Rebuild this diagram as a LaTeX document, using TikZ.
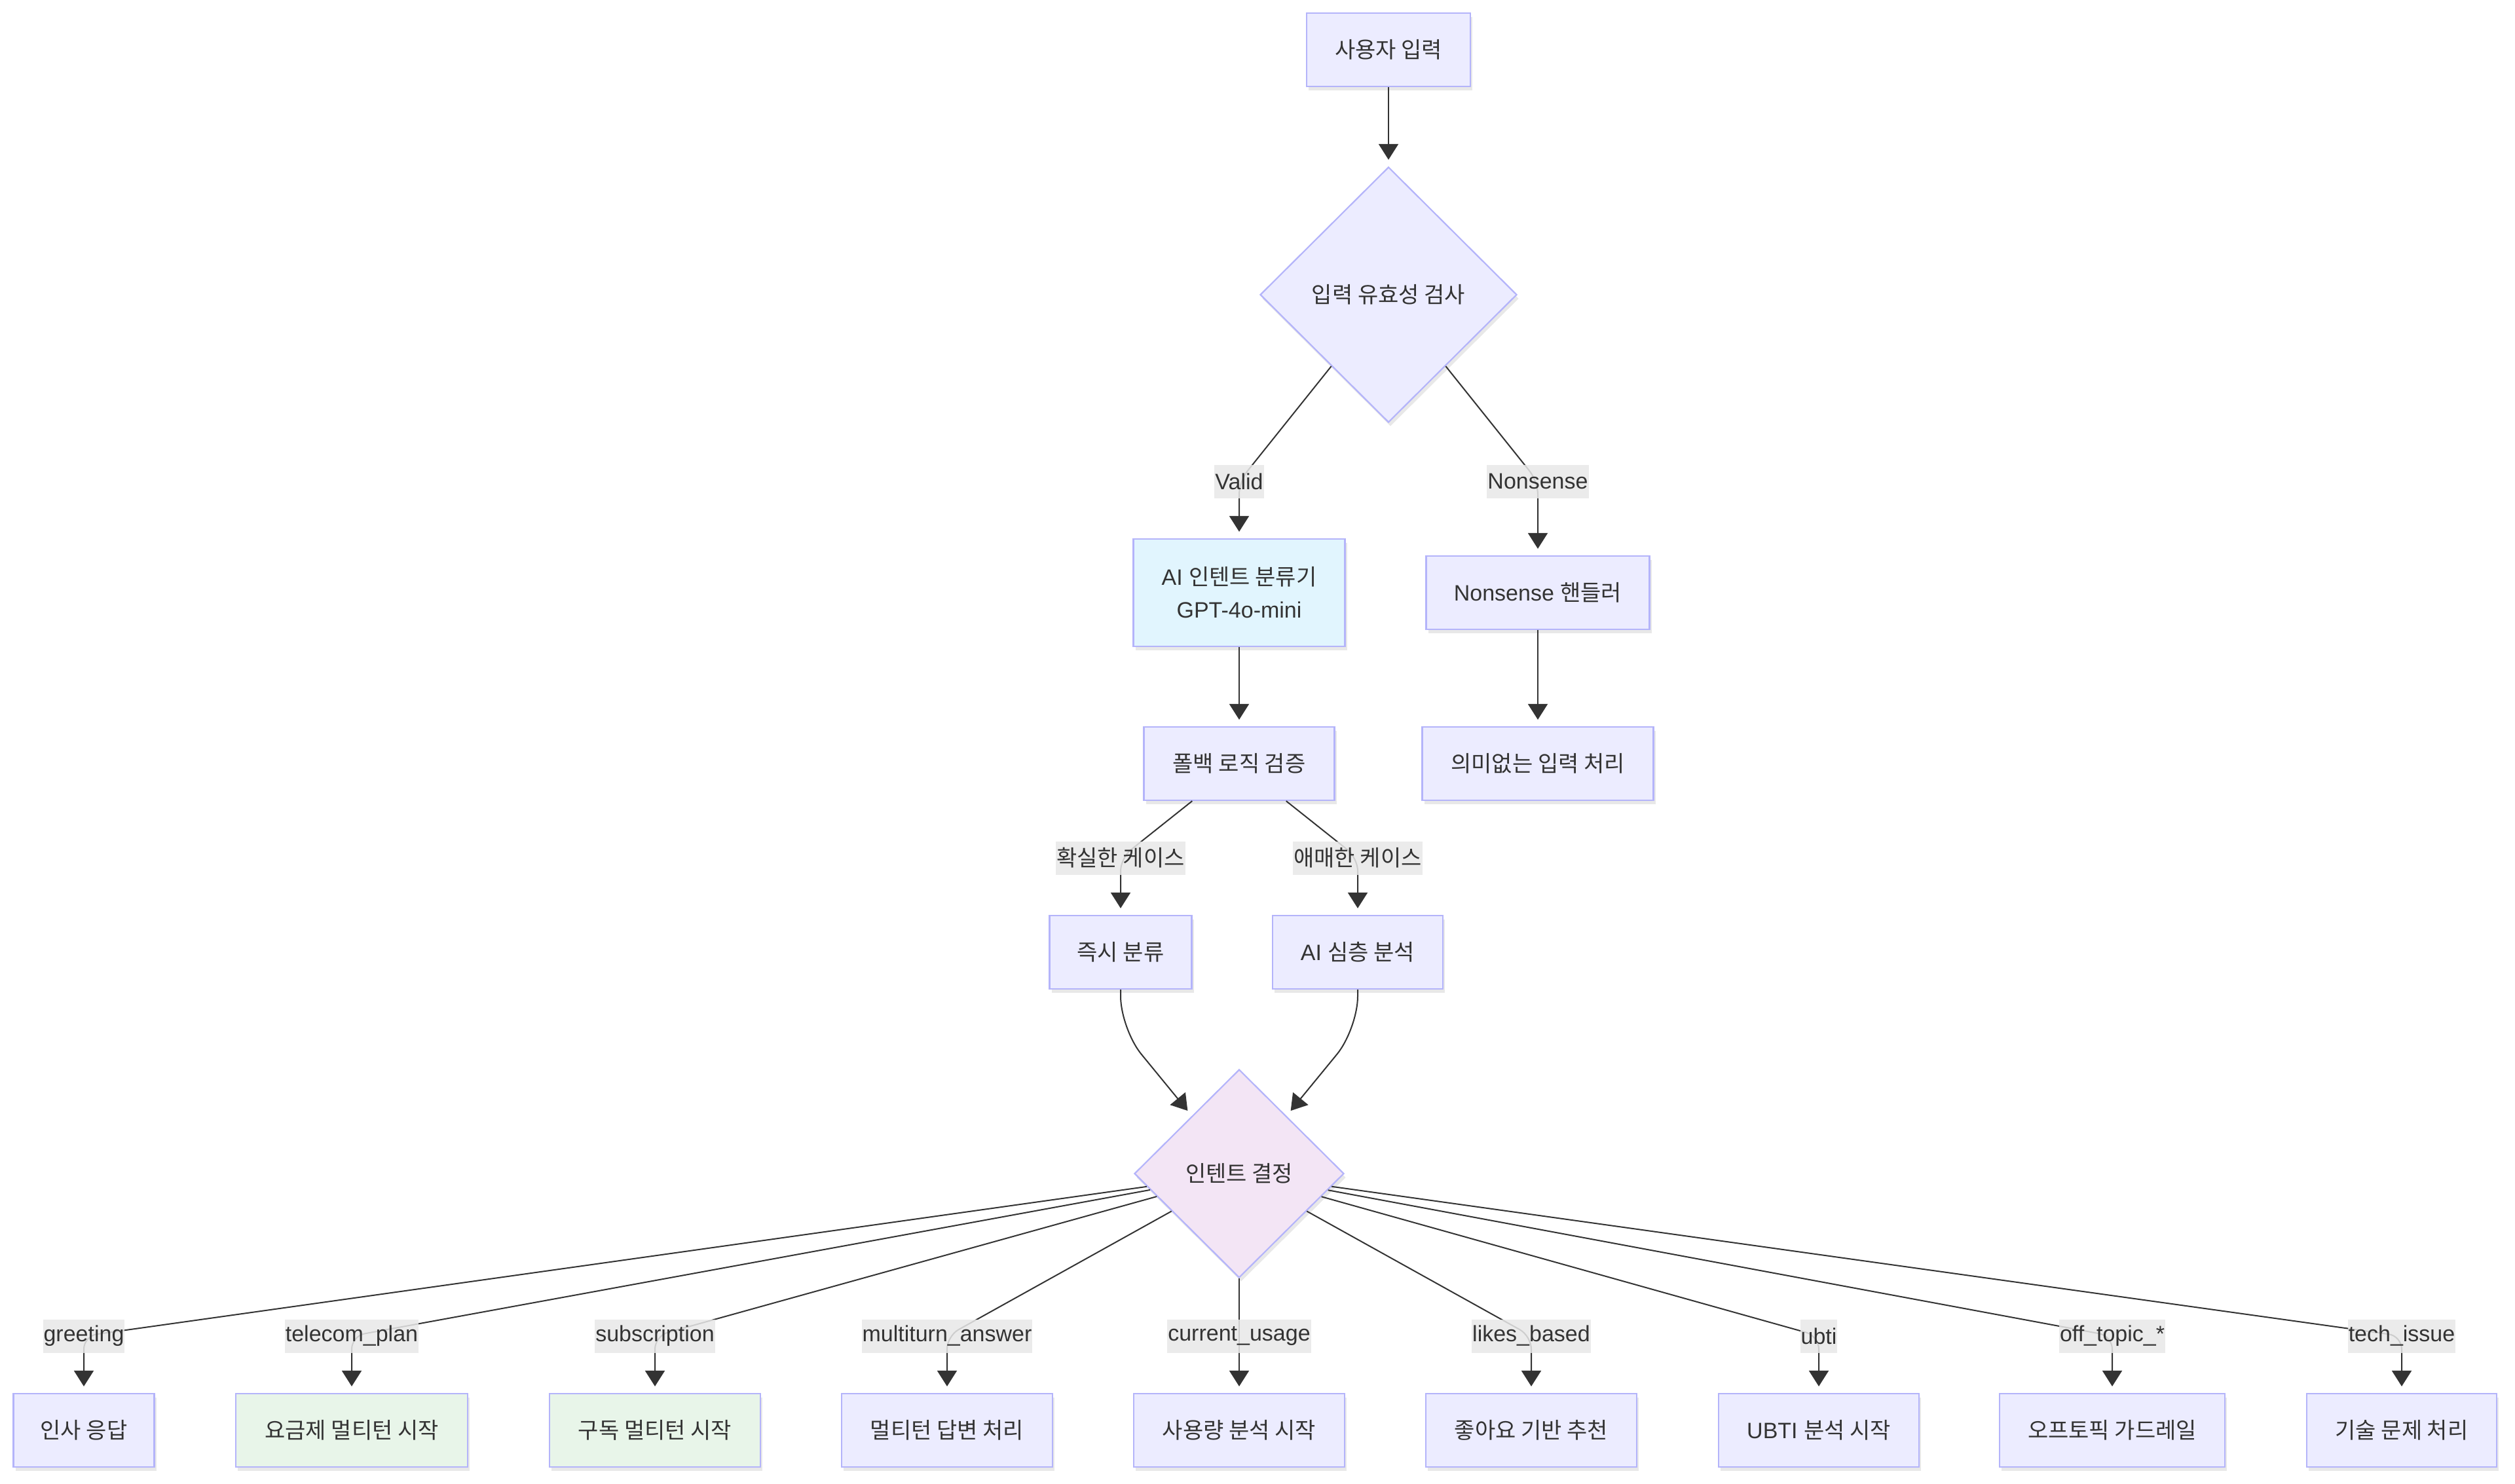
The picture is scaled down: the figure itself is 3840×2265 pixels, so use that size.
\documentclass[tikz,border=0pt]{standalone}
\usepackage{fontspec}
\setmainfont{Liberation Sans}
\newfontfamily\kr{Noto Sans CJK KR}
\usetikzlibrary{shapes.geometric,arrows.meta,shadows}

\definecolor{nodefill}{HTML}{ECECFF}
\definecolor{nodeline}{HTML}{B4B4FA}
\definecolor{aifill}{HTML}{E1F5FE}
\definecolor{planfill}{HTML}{E8F5E9}
\definecolor{decfill}{HTML}{F3E5F5}
\definecolor{tagfill}{HTML}{E8E8E8}
\definecolor{ink}{HTML}{333333}

\tikzset{
	box/.style={rectangle,draw=nodeline,line width=2.2pt,fill=nodefill,text=ink,
		minimum height=112pt,inner sep=0pt,align=center,
		font=\fontsize{34}{50}\selectfont,
		drop shadow={shadow xshift=3pt,shadow yshift=-6pt,opacity=0.18}},
	choice/.style={diamond,aspect=1,draw=nodeline,line width=2.2pt,fill=nodefill,text=ink,
		inner sep=0pt,font=\fontsize{34}{50}\selectfont,
		drop shadow={shadow xshift=3pt,shadow yshift=-6pt,opacity=0.18}},
	tag/.style={rectangle,fill=tagfill,fill opacity=0.85,text opacity=1,text=ink,
		inner xsep=1pt,inner ysep=0pt,minimum height=51pt,
		font=\fontsize{34}{41}\selectfont},
	link/.style={draw=ink,line width=2pt,-{Triangle[length=24pt,width=30pt]},
		shorten >=10pt,rounded corners=20pt}
}

\begin{document}
\begin{tikzpicture}[x=1pt,y=-1pt]
		\useasboundingbox (0,0) rectangle (3840,2265);
%		\draw[help lines] (0,0) grid (3840,2265);

		\node[box,minimum width=250pt] (inp) at (2120,76) {\kr 사용자 입력};
		\node[choice,minimum width=392pt,minimum height=390pt] (chk) at (2120,450) {\kr 입력 유효성 검사};
		\node[box,fill=aifill,minimum width=323pt,minimum height=164pt] (cls) at (1892,905) {AI {\kr 인텐트 분류기}\\GPT-4o-mini};
		\node[box,minimum width=341pt] (nsh) at (2348,905) {Nonsense {\kr 핸들러}};
		\node[box,minimum width=291pt] (fb) at (1892,1166) {\kr 폴백 로직 검증};
		\node[box,minimum width=353pt] (nsp) at (2348,1166) {\kr 의미없는 입력 처리};
		\node[box,minimum width=217pt] (jc) at (1711,1454) {\kr 즉시 분류};
		\node[box,minimum width=260pt] (deep) at (2073,1454) {AI {\kr 심층 분석}};
		\node[choice,fill=decfill,minimum width=320pt,minimum height=318pt] (dec) at (1892,1792) {\kr 인텐트 결정};

		\node[box,minimum width=215pt] (greet) at (128,2184) {\kr 인사 응답};
		\node[box,fill=planfill,minimum width=354pt] (plan) at (537,2184) {\kr 요금제 멀티턴 시작};
		\node[box,fill=planfill,minimum width=322pt] (subs) at (1000,2184) {\kr 구독 멀티턴 시작};
		\node[box,minimum width=322pt] (multi) at (1446,2184) {\kr 멀티턴 답변 처리};
		\node[box,minimum width=322pt] (usage) at (1892,2184) {\kr 사용량 분석 시작};
		\node[box,minimum width=322pt] (likes) at (2338,2184) {\kr 좋아요 기반 추천};
		\node[box,minimum width=306pt] (ubti) at (2777,2184) {UBTI {\kr 분석 시작}};
		\node[box,minimum width=344pt] (offt) at (3225,2184) {\kr 오프토픽 가드레일};
		\node[box,minimum width=290pt] (tech) at (3667,2184) {\kr 기술 문제 처리};

		\path (1892,735) coordinate (valid);
		\path (2348,735) coordinate (nonsense);
		\path (1711,1310) coordinate (sure);
		\path (2073,1310) coordinate (vague);

		\path (128,2040) coordinate (greeting);
		\path (537,2040) coordinate (telecom);
		\path (1000,2040) coordinate (subscription);
		\path (1446,2040) coordinate (multiturn);
		\path (1892,2040) coordinate (current);
		\path (2338,2040) coordinate (likesb);
		\path (2777,2040) coordinate (ubtic);
		\path (3225,2040) coordinate (offtopic);
		\path (3667,2040) coordinate (techissue);

		\draw[link] (inp) -- (chk);
		\draw[link] (chk) -- (valid) -- (cls);
		\draw[link] (chk) -- (nonsense) -- (nsh);
		\draw[link] (cls) -- (fb);
		\draw[link] (nsh) -- (nsp);
		\draw[link] (fb) -- (sure) -- (jc);
		\draw[link] (fb) -- (vague) -- (deep);
		\draw[link,rounded corners=50pt] (jc.south) -- ++(0,60) -- (dec);
		\draw[link,rounded corners=50pt] (deep.south) -- ++(0,60) -- (dec);

		\draw[link] (dec) -- (greeting) -- (greet);
		\draw[link] (dec) -- (telecom) -- (plan);
		\draw[link] (dec) -- (subscription) -- (subs);
		\draw[link] (dec) -- (multiturn) -- (multi);
		\draw[link] (dec) -- (current) -- (usage);
		\draw[link] (dec) -- (likesb) -- (likes);
		\draw[link] (dec) -- (ubtic) -- (ubti);
		\draw[link] (dec) -- (offtopic) -- (offt);
		\draw[link] (dec) -- (techissue) -- (tech);

		\node[tag] (lvalid) at (valid) {Valid};
		\node[tag] (lnonsense) at (nonsense) {Nonsense};
		\node[tag] (lsure) at (sure) {\kr 확실한 케이스};
		\node[tag] (lvague) at (vague) {\kr 애매한 케이스};

		\node[tag] (lgreeting) at (greeting) {greeting};
		\node[tag] (ltelecom) at (telecom) {telecom\_plan};
		\node[tag] (lsubscription) at (subscription) {subscription};
		\node[tag] (lmultiturn) at (multiturn) {multiturn\_answer};
		\node[tag] (lcurrent) at (current) {current\_usage};
		\node[tag] (llikes) at (likesb) {likes\_based};
		\node[tag] (lubti) at (ubtic) {ubti};
		\node[tag] (lofftopic) at (offtopic) {off\_topic\_*};
		\node[tag] (ltech) at (techissue) {tech\_issue};

	\end{tikzpicture}
\end{document}
